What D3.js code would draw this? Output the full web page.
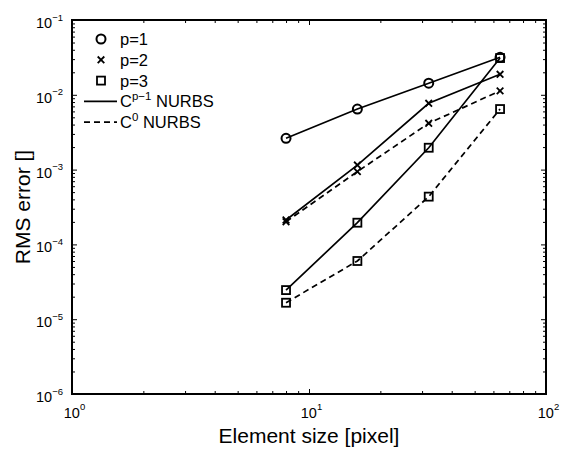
<!DOCTYPE html>
<html>
<head>
<meta charset="utf-8">
<script src="https://cdn.jsdelivr.net/npm/d3@7"></script>
<style>
  body { margin: 0; background: #fff; }
  text { font-family: "Liberation Sans", Arial, Helvetica, sans-serif; fill: #000; }
</style>
</head>
<body>
<svg id="chart" width="565" height="449"></svg>
<script>
// Element size (pixels) and RMS error for each polynomial degree / continuity
const elementSize = [8, 16, 32, 64];
const p1Smooth = [2.62e-3, 6.45e-3, 1.43e-2, 3.17e-2];
const p2Smooth = [2.12e-4, 1.15e-3, 7.7e-3, 1.88e-2];
const p2C0 = [2.01e-4, 9.4e-4, 4.16e-3, 1.13e-2];
const p3Smooth = [2.45e-5, 1.95e-4, 1.96e-3, 3.1e-2];
const p3C0 = [1.66e-5, 6.0e-5, 4.35e-4, 6.45e-3];

// Axis ticks (decades) and their exponent labels
const xMajor = [1, 10, 100];
const xExponents = ["0", "1", "2"];
const yMajor = [1e-6, 1e-5, 1e-4, 1e-3, 1e-2, 1e-1];
const yExponents = ["\u22126", "\u22125", "\u22124", "\u22123", "\u22122", "\u22121"];

// Legend entries
const legendMarkers = [["circle", "p=1"], ["cross", "p=2"], ["square", "p=3"]];
const legendLines = [["solid", "p\u22121"], ["dashed", "0"]];

const series = [
  { values: p1Smooth, marker: "circle", dashed: false },
  { values: p2Smooth, marker: "cross", dashed: false },
  { values: p2C0, marker: "cross", dashed: true },
  { values: p3Smooth, marker: "square", dashed: false },
  { values: p3C0, marker: "square", dashed: true }
];

const W = 565, H = 449;
const margin = { left: 72, right: 19, top: 20, bottom: 55 };
const iw = W - margin.left - margin.right;
const ih = H - margin.top - margin.bottom;

const svg = d3.select("#chart");
svg.append("rect").attr("width", W).attr("height", H).attr("fill", "#fff");
const g = svg.append("g").attr("transform", `translate(${margin.left},${margin.top})`);

const x = d3.scaleLog().domain([1, 100]).range([0, iw]);
const y = d3.scaleLog().domain([1e-6, 1e-1]).range([ih, 0]);

function minorTicks(lo, hi) {
  const out = [];
  for (let e = lo; e < hi; e++) {
    for (let m = 2; m <= 9; m++) out.push(m * Math.pow(10, e));
  }
  return out;
}
const xMinor = minorTicks(0, 2);
const yMinor = minorTicks(-6, -1);

function styleAxis(sel) {
  sel.select(".domain").remove();
  sel.attr("font-family", null).attr("font-size", null);
  sel.selectAll(".tick line").attr("stroke", "#000").attr("stroke-width", 1);
}

function powerLabels(sel, exps, dy) {
  sel.selectAll(".tick text").each(function (d, i) {
    const t = d3.select(this);
    t.text(null).attr("dy", dy).style("font-size", "14.5px");
    t.append("tspan").text("10");
    t.append("tspan").style("font-size", "9.5px").attr("dy", -7.5).text(exps[i]);
  });
}

// Bottom axis with labels
const gxB = g.append("g").attr("transform", `translate(0,${ih})`)
  .call(d3.axisBottom(x).tickValues(xMajor).tickSize(-5).tickPadding(23).tickFormat(() => ""));
styleAxis(gxB);
gxB.selectAll(".tick text").attr("y", 23.5);
powerLabels(gxB, xExponents, 0);
gxB.selectAll(".tick text").attr("dx", 2);
const gxBm = g.append("g").attr("transform", `translate(0,${ih})`)
  .call(d3.axisBottom(x).tickValues(xMinor).tickSize(-3).tickFormat(() => ""));
styleAxis(gxBm);

// Top axis ticks
const gxT = g.append("g")
  .call(d3.axisTop(x).tickValues(xMajor).tickSize(-5).tickFormat(() => ""));
styleAxis(gxT);
const gxTm = g.append("g")
  .call(d3.axisTop(x).tickValues(xMinor).tickSize(-3).tickFormat(() => ""));
styleAxis(gxTm);

// Left axis with labels
const gyL = g.append("g")
  .call(d3.axisLeft(y).tickValues(yMajor).tickSize(-5).tickPadding(9).tickFormat(() => ""));
styleAxis(gyL);
powerLabels(gyL, yExponents, 7.5);
const gyLm = g.append("g")
  .call(d3.axisLeft(y).tickValues(yMinor).tickSize(-3).tickFormat(() => ""));
styleAxis(gyLm);

// Right axis ticks
const gyR = g.append("g").attr("transform", `translate(${iw},0)`)
  .call(d3.axisRight(y).tickValues(yMajor).tickSize(-5).tickFormat(() => ""));
styleAxis(gyR);
const gyRm = g.append("g").attr("transform", `translate(${iw},0)`)
  .call(d3.axisRight(y).tickValues(yMinor).tickSize(-3).tickFormat(() => ""));
styleAxis(gyRm);

// Plot frame
g.append("rect").attr("width", iw).attr("height", ih)
  .attr("fill", "none").attr("stroke", "#000").attr("stroke-width", 2);

// Axis titles
svg.append("text")
  .attr("x", margin.left + iw / 2).attr("y", 443)
  .attr("text-anchor", "middle").style("font-size", "21px")
  .text("Element size [pixel]");
svg.append("text")
  .attr("transform", `translate(30,${margin.top + ih / 2}) rotate(-90)`)
  .attr("text-anchor", "middle").style("font-size", "21px")
  .text("RMS error []");

// Marker drawing
function drawMarker(sel, type, cx, cy) {
  if (type === "circle") {
    sel.append("circle").attr("cx", cx).attr("cy", cy).attr("r", 4.5)
      .attr("fill", "none").attr("stroke", "#000").attr("stroke-width", 2);
  } else if (type === "square") {
    sel.append("rect").attr("x", cx - 4).attr("y", cy - 4).attr("width", 8).attr("height", 8)
      .attr("fill", "none").attr("stroke", "#000").attr("stroke-width", 1.8);
  } else {
    const s = 3.3;
    sel.append("path")
      .attr("d", `M${cx - s},${cy - s}L${cx + s},${cy + s}M${cx - s},${cy + s}L${cx + s},${cy - s}`)
      .attr("stroke", "#000").attr("stroke-width", 1.8).attr("fill", "none");
  }
}

const line = d3.line().x((d, i) => x(elementSize[i])).y(d => y(d));

const plot = g.append("g");
series.forEach(s => {
  plot.append("path").datum(s.values)
    .attr("d", line)
    .attr("fill", "none").attr("stroke", "#000").attr("stroke-width", 1.7)
    .attr("stroke-dasharray", s.dashed ? "6,4" : null);
});
series.forEach(s => {
  s.values.forEach((v, i) => drawMarker(plot, s.marker, x(elementSize[i]), y(v)));
});

// Legend
const leg = svg.append("g");
const legY0 = 39, legDy = 20.8;
legendMarkers.forEach(([m, label], i) => {
  const yy = legY0 + i * legDy;
  drawMarker(leg, m, 101, yy);
  leg.append("text").attr("x", 120).attr("y", yy + 6).style("font-size", "16.5px").text(label);
});
legendLines.forEach(([style, sup], j) => {
  const yy = legY0 + (3 + j) * legDy;
  leg.append("line").attr("x1", 84).attr("x2", 117).attr("y1", yy).attr("y2", yy)
    .attr("stroke", "#000").attr("stroke-width", 1.7)
    .attr("stroke-dasharray", style === "dashed" ? "6,4" : null);
  const t = leg.append("text").attr("x", 120).attr("y", yy + 6).style("font-size", "16.5px");
  t.append("tspan").text("C");
  t.append("tspan").style("font-size", "11.5px").attr("dy", -7).text(sup);
  t.append("tspan").attr("dy", 7).text(" NURBS");
});
</script>
</body>
</html>
